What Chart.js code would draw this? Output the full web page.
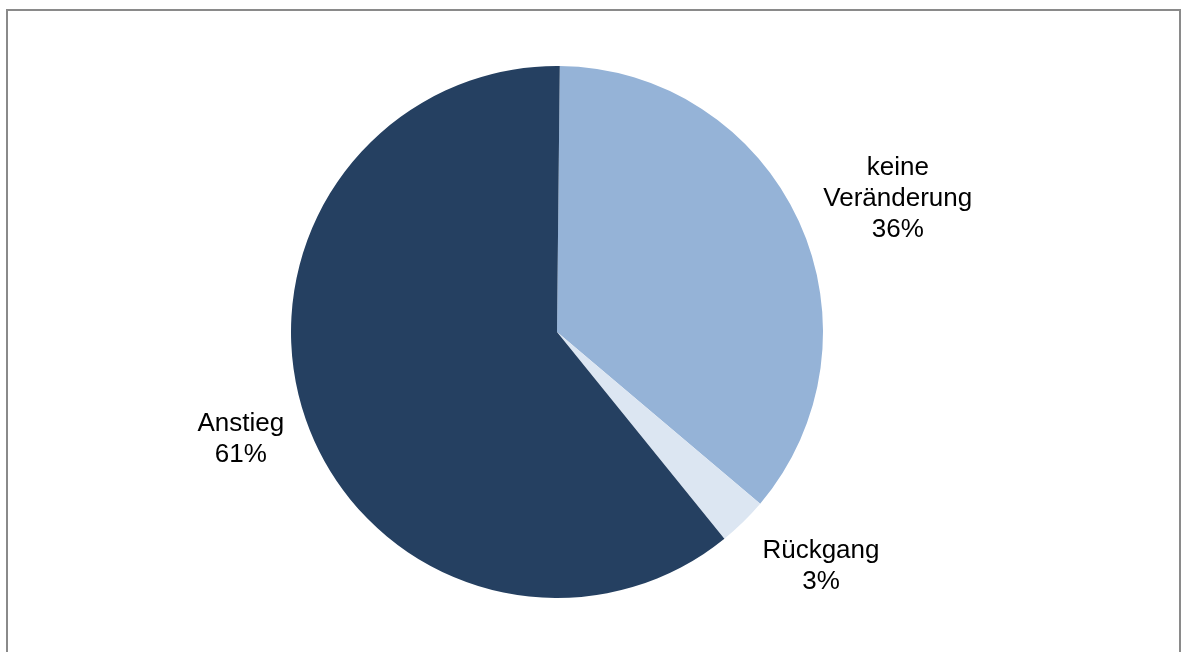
<!DOCTYPE html>
<html>
<head>
<meta charset="utf-8">
<script src="https://cdn.jsdelivr.net/npm/chart.js@4"></script>
<style>
    html, body { margin: 0; padding: 0; background: #fff; overflow: hidden; }
    #frame {
        position: absolute; left: 6px; top: 9px; width: 1175px; height: 660px;
        border: 2px solid #8a8a8a; box-sizing: border-box;
    }
    #wrap { position: absolute; left: 0; top: 0; width: 1181px; height: 652px; }
</style>
</head>
<body>
<div id="frame"></div>
<div id="wrap"><canvas id="pieChart" width="1181" height="652"></canvas></div>
<script>
const categories = ["keine Veränderung", "Rückgang", "Anstieg"];
const labelLines = [["keine", "Veränderung"], ["Rückgang"], ["Anstieg"]];
const shares = [36, 3, 61];
const colors = ["#95B3D7", "#DCE6F2", "#254061"];

// labels outside the pie, Excel "best fit" style
const outsideLabels = {
    id: "outsideLabels",
    afterDatasetsDraw(chart, args, opts) {
        const ctx = chart.ctx;
        const meta = chart.getDatasetMeta(0);
        ctx.save();
        ctx.font = "26px 'Liberation Sans', Arial, sans-serif";
        ctx.fillStyle = "#000";
        ctx.textAlign = "center";
        ctx.textBaseline = "middle";
        meta.data.forEach(function (arc, i) {
            const p = arc.getProps(["x", "y", "startAngle", "endAngle", "outerRadius"], true);
            const a = (p.startAngle + p.endAngle) / 2 + opts.angleShift[i] * Math.PI / 180;
            const d = p.outerRadius * opts.distance[i];
            const cx = p.x + Math.cos(a) * d;
            const cy = p.y + Math.sin(a) * d;
            const lines = labelLines[i].concat([shares[i] + "%"]);
            const lh = 31;
            const top = cy - (lines.length - 1) * lh / 2;
            lines.forEach(function (t, k) {
                ctx.fillText(t, cx, top + k * lh);
            });
        });
        ctx.restore();
    }
};

new Chart(document.getElementById("pieChart"), {
    type: "pie",
    data: {
        labels: categories,
        datasets: [{
            data: shares,
            backgroundColor: colors,
            borderWidth: 0
        }]
    },
    options: {
        responsive: false,
        animation: false,
        rotation: 0.6,
        layout: { padding: { top: 66, bottom: 54, left: 0, right: 67 } },
        plugins: {
            legend: { display: false },
            tooltip: { enabled: false },
            outsideLabels: {
                distance: [1.376, 1.327, 1.255],
                angleShift: [3.2, -4, 0.5]
            }
        }
    },
    plugins: [outsideLabels]
});
</script>
</body>
</html>
